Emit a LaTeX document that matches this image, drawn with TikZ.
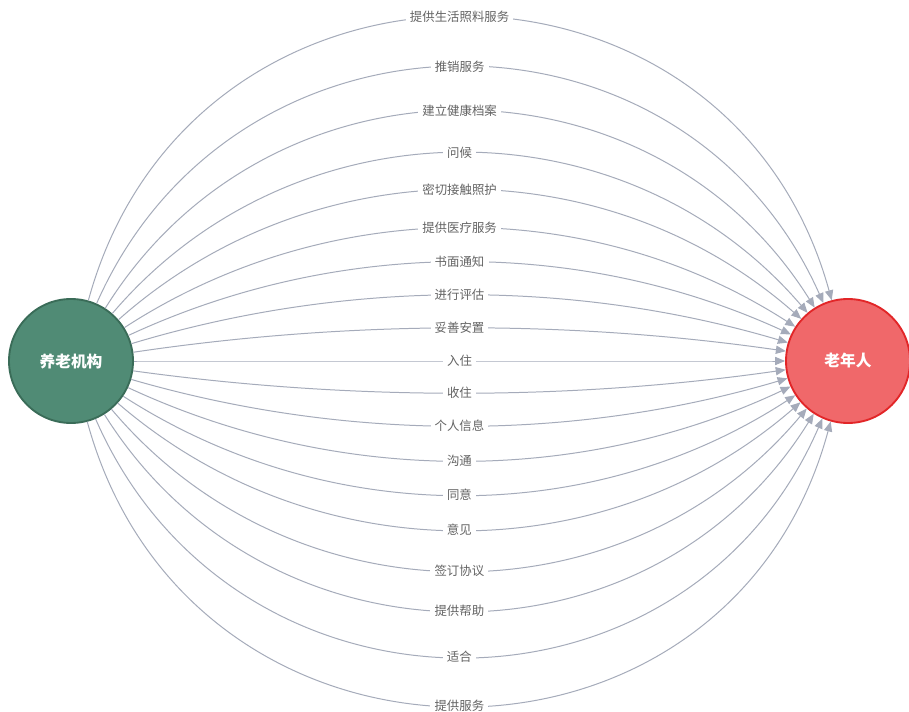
\documentclass[tikz,border=0pt]{standalone}
\usepackage{fontspec}
\newfontfamily\cjk{Noto Sans CJK SC}
\usetikzlibrary{arrows.meta}
\definecolor{greenfill}{RGB}{80,139,117}
\definecolor{greenline}{RGB}{58,108,88}
\definecolor{redfill}{RGB}{240,104,106}
\definecolor{redline}{RGB}{226,38,40}
\definecolor{edgecol}{RGB}{165,171,186}
\definecolor{labelcol}{RGB}{100,100,100}
\tikzset{
  actor/.style={circle, minimum size=3.72cm, inner sep=0pt, line width=1.6pt, text=white, font=\cjk\fontsize{13.4}{15}\selectfont\bfseries},
  lbl/.style={fill=white, inner sep=3.5pt, text=labelcol, font=\cjk\fontsize{10.6}{12}\selectfont},
  rel/.style={draw=edgecol, line width=0.85pt, -{Triangle[length=8.5pt,width=7pt,fill=edgecol]}},
}
\def\iterth{\pgfmathsetmacro\th{2*atan((\H-63*sin(\th))/(388.5-63*cos(\th)))}}
\begin{document}
\begin{tikzpicture}[x=0.03cm,y=-0.03cm]
\useasboundingbox (0,0) rectangle (909,712);
\fill[white] (0,0) rectangle (909,712);
\node[actor, fill=greenfill, draw=greenline] (L) at (71,361) {养老机构};
\node[actor, fill=redfill, draw=redline] (R) at (848,361) {老年人};
\foreach \yl/\t in {17/提供生活照料服务,67/推销服务,111/建立健康档案,153/问候,190/密切接触照护,228/提供医疗服务,262/书面通知,295/进行评估,328/妥善安置,361/入住,393/收住,426/个人信息,461/沟通,495/同意,530/意见,571/签订协议,611/提供帮助,657/适合,706/提供服务}{
  \pgfmathsetmacro\H{361-\yl}
  \pgfmathsetmacro\th{2*atan(\H/388.5)}
  \iterth\iterth\iterth\iterth\iterth\iterth\iterth
  \pgfmathsetmacro\h{\H-63*sin(\th)}
  \pgfmathsetmacro\w{388.5-63*cos(\th)}
  \pgfmathsetmacro\k{200/3*((\w/100)^2+(\h/100)^2)/(\w/100)}
  \pgfmathsetmacro\xs{71+63*cos(\th)}
  \pgfmathsetmacro\ys{361-63*sin(\th)}
  \pgfmathsetmacro\xe{848-63*cos(\th)}
  \pgfmathsetmacro\cax{\xs+\k*cos(\th)}
  \pgfmathsetmacro\cbx{\xe-\k*cos(\th)}
  \pgfmathsetmacro\cy{\ys-\k*sin(\th)}
  \pgfmathsetmacro\tha{mod(\th+360,360)}
  \pgfmathsetmacro\thb{180-\th}
  \draw[rel] (L.\tha) .. controls (\cax,\cy) and (\cbx,\cy) .. (R.\thb) node[lbl, pos=0.5] {\t};
}
\end{tikzpicture}
\end{document}
